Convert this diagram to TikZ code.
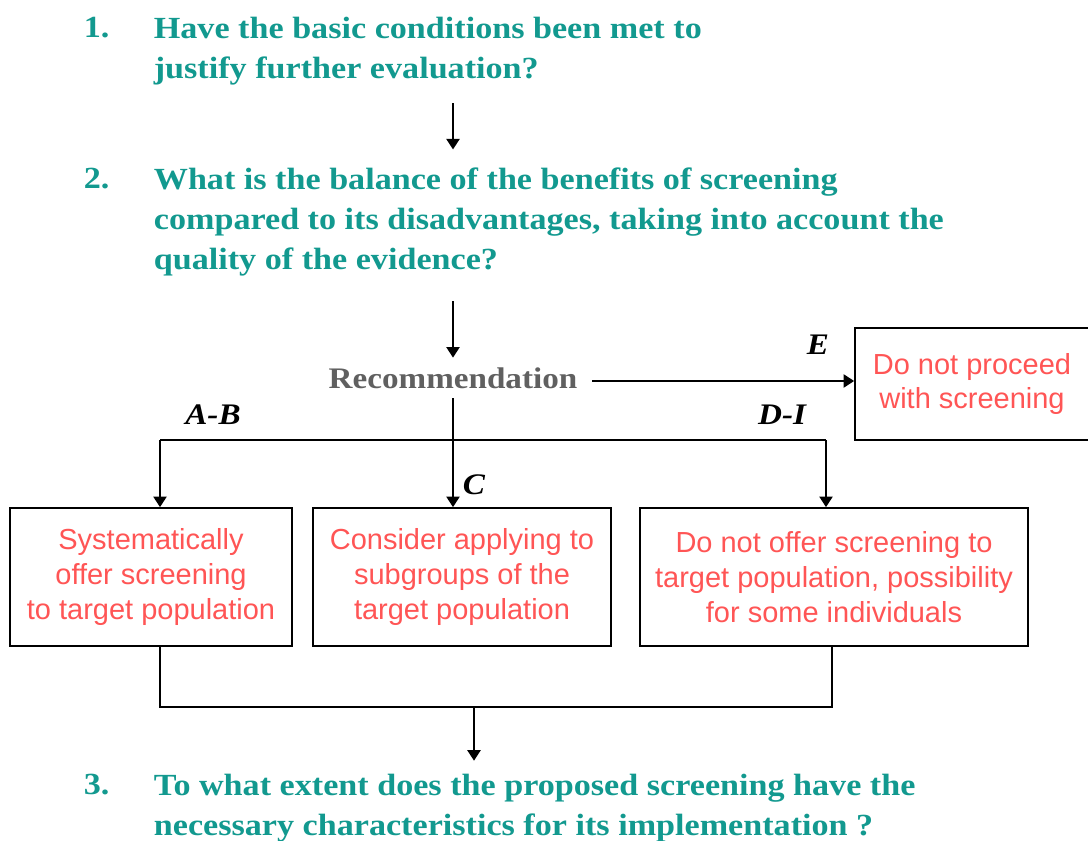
\documentclass[tikz,border=0pt]{standalone}
\usepackage{fontspec}
\setmainfont{Liberation Serif}
\newfontfamily\qfont[FakeStretch=1.11]{Liberation Serif}
\newfontfamily\boxfont{Liberation Sans}
\usetikzlibrary{positioning,arrows.meta}
\definecolor{qteal}{HTML}{12998F}
\definecolor{recred}{HTML}{FF5555}
\definecolor{recgrey}{HTML}{606060}
\begin{document}
\begin{tikzpicture}
            [
                x=0.02cm, y=-0.02cm,
                question/.style={text=qteal, inner sep=0pt, anchor=north west, align=left,
                    font=\qfont\fontsize{17.5}{22.7}\selectfont\bfseries},
                option/.style={draw, line width=1pt, text=recred, align=center,
                    font=\boxfont\fontsize{16.5}{19.8}\selectfont},
                branch/.style={font=\qfont\fontsize{17}{20}\selectfont\bfseries\itshape},
                >={Triangle[width=7.5pt,length=6pt]}, line width=1pt
            ]
            \useasboundingbox (0,0) rectangle (1088,841);
            % questions
            \node [question] (n1) at (83,16) {1.};
            \node [question] (q1) at (153,16) {
                Have the basic conditions been met to \\
                justify further evaluation?
            };
            \node [question] (n2) at (83,167) {2.};
            \node [question] (q2) at (153,167) {
                What is the balance of the benefits of screening \\
                compared to its disadvantages, taking into account the \\
                quality of the evidence?
            };
            \node [question] (n3) at (83,773) {3.};
            \node [question] (q3) at (153,773) {
                To what extent does the proposed screening have the \\
                necessary characteristics for its implementation ?
            };
            % recommendation and options
            \node [text=recgrey, inner xsep=0.28cm, inner ysep=0.18cm,
                font=\qfont\fontsize{17}{20}\selectfont\bfseries] (rec) at (453,378) {Recommendation};
            \node [option, minimum width=4.68cm, minimum height=2.24cm] (optE) at (972,384) {
                Do not proceed \\ with screening
            };
            \node [option, minimum width=5.64cm, minimum height=2.76cm] (optA) at (151,577) {
                Systematically \\ offer screening \\ to target population
            };
            \node [option, minimum width=5.96cm, minimum height=2.76cm] (optC) at (462,577) {
                Consider applying to \\ subgroups of the \\ target population
            };
            \node [option, minimum width=7.76cm, minimum height=2.76cm] (optD) at (834,577) {
                Do not offer screening to \\ target population, possibility \\ for some individuals
            };
            % grade labels
            \node [branch] (lblE) at (818,345) {E};
            \node [branch] (lblAB) at (213,415) {A-B};
            \node [branch] (lblC) at (474,485) {C};
            \node [branch] (lblDI) at (782,415) {D-I};
            % connectors
            \coordinate (splitL) at (160,440);
            \coordinate (splitR) at (826,440);
            \coordinate (joinL) at (160,707);
            \coordinate (joinR) at (832,707);
            \coordinate (joinM) at (474,707);
            \draw [->, shorten <=10pt, shorten >=10pt] (q1.south -| rec) -- (q2.north -| rec);
            \draw [->, shorten <=14pt] (q2.south -| rec) -- (rec.north);
            \draw [->] (rec.east) ++(0,3) -- (optE.west |- 0,381);
            \draw [->] (rec.south) -- (optC.north -| rec);
            \draw (splitL) -- (splitR);
            \draw [->] (splitL) -- (splitL |- optA.north);
            \draw [->] (splitR) -- (splitR |- optD.north);
            \draw (optA.south -| joinL) -- (joinL) -- (joinR) -- (optD.south -| joinR);
            \draw [->, shorten >=7pt] (joinM) -- (q3.north -| joinM);
\end{tikzpicture}
\end{document}
